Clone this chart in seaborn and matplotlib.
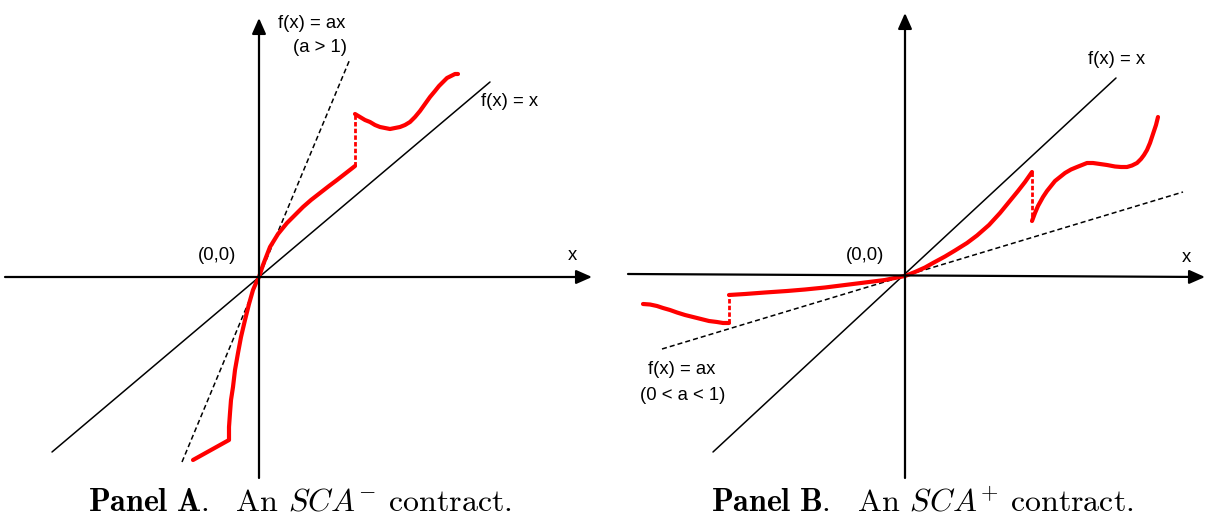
import matplotlib
matplotlib.use("Agg")
import matplotlib.pyplot as plt
import seaborn as sns

# values: offsets from each panel's origin, in pixels

# Panel A
a_diag_x = [-207, 231]
a_diag_y = [-175, 195]
a_ray_x = [-77, 91]
a_ray_y = [-185, 218]
a_low_x = [-66, -30, -30, -29, -28, -26, -24, -21, -18, -14, -10, -6, -3, 0,
           4, 11, 19, 28, 36, 44, 52, 61, 70, 78, 87, 96]
a_low_y = [-183, -163, -150, -136, -123, -110, -93, -76, -60, -43, -27, -13, -6, 0,
           12, 30, 43, 54, 62, 70, 77, 84, 91, 97, 104, 111]
a_jump_x = [96, 96]
a_jump_y = [111, 163]
a_high_x = [96, 101, 106, 111, 116, 121, 126, 131, 136, 141, 146, 151, 156,
            161, 166, 171, 176, 180, 184, 188, 192, 196, 199]
a_high_y = [163, 160, 157, 155, 152, 150, 149, 148, 149, 150, 152, 155, 160,
            166, 173, 180, 186, 191, 195, 199, 201, 203, 203]

# Panel B
b_diag_x = [-192, 211]
b_diag_y = [-176, 198]
b_ray_x = [-243, 278]
b_ray_y = [-73, 84]
b_left_x = [-262, -255, -248, -242, -235, -228, -220, -212, -204, -196, -188, -182, -176]
b_left_y = [-28, -28.5, -30, -32, -34, -36.5, -39, -41, -43, -45, -46, -47, -47]
b_jump1_x = [-176, -176]
b_jump1_y = [-47, -19]
b_mid_x = [-176, -160, -140, -118, -100, -80, -60, -40, -20, -8, 0,
           10, 20, 28, 40, 50, 62, 72, 84, 95, 104, 113, 120, 127]
b_mid_y = [-19, -18, -16.5, -15, -13.5, -11.5, -9, -6.5, -4, -1.5, 0,
           4, 8.5, 13, 19.5, 25.5, 33, 40.5, 51, 63, 74, 85, 94, 104]
b_jump2_x = [127, 127]
b_jump2_y = [104, 55]
b_high_x = [127, 130, 133, 138, 142, 146, 150, 155, 160, 166, 172, 177, 182,
            188, 195, 202, 210, 216, 222, 227, 232, 236, 239, 242, 245, 248, 251, 253]
b_high_y = [55, 63, 70, 79, 85, 90, 95, 99, 103, 106.5, 109, 111, 113,
            113, 112, 111, 109.5, 109, 109, 110.5, 113, 117, 121, 126, 133, 142, 151, 159]

sns.set_style("white")
plt.rcParams["font.family"] = ["Liberation Sans", "DejaVu Sans"]
plt.rcParams["mathtext.fontset"] = "cm"
plt.rcParams["text.color"] = "black"

RED = "#ff0000"
LBL = 13.3


def axis_arrow(ax, start, tip):
    ax.annotate("", xy=tip, xytext=start,
                arrowprops=dict(arrowstyle="-|>,head_length=0.95,head_width=0.42",
                                mutation_scale=10, lw=1.6, color="black",
                                shrinkA=0, shrinkB=0),
                annotation_clip=False)


def red_curve(ax, x, y, dashed=False):
    if dashed:
        sns.lineplot(x=x, y=y, sort=False, estimator=None, color=RED, lw=2.0,
                     ax=ax, clip_on=False)
        ax.lines[-1].set_linestyle((0, (1.6, 0.8)))
    else:
        sns.lineplot(x=x, y=y, sort=False, estimator=None, color=RED, lw=3.0,
                     ax=ax, clip_on=False, solid_capstyle="round",
                     solid_joinstyle="round")


def black_line(ax, x, y, dashed=False):
    sns.lineplot(x=x, y=y, sort=False, estimator=None, color="black",
                 lw=1.1, ax=ax, clip_on=False)
    if dashed:
        ax.lines[-1].set_linestyle((0, (3.3, 2.0)))


fig = plt.figure(figsize=(12.06, 5.19), dpi=100)
axA = fig.add_axes([0, 0, 603 / 1206, 1])
axB = fig.add_axes([603 / 1206, 0, 603 / 1206, 1])

# ---- Panel A ----
axA.set_xlim(-259, 344)
axA.set_ylim(-242, 277)
axis_arrow(axA, (-254, 0), (333, 0))
axis_arrow(axA, (0, -201), (0, 259))
black_line(axA, a_diag_x, a_diag_y)
black_line(axA, a_ray_x, a_ray_y, dashed=True)
red_curve(axA, a_low_x, a_low_y)
red_curve(axA, a_jump_x, a_jump_y, dashed=True)
red_curve(axA, a_high_x, a_high_y)
axA.text(53, 253, "f(x) = ax", fontsize=LBL, ha="center", va="center")
axA.text(61, 229, "(a > 1)", fontsize=LBL, ha="center", va="center")
axA.text(251, 175, "f(x) = x", fontsize=LBL, ha="center", va="center")
axA.text(-42, 21, "(0,0)", fontsize=LBL, ha="center", va="center")
axA.text(313, 22, "x", fontsize=LBL, ha="center", va="center")

# ---- Panel B ----
axB.set_xlim(-302, 301)
axB.set_ylim(-243, 276)
axis_arrow(axB, (-277, 2), (300, -1))
axis_arrow(axB, (0, -202), (0, 263))
black_line(axB, b_diag_x, b_diag_y)
black_line(axB, b_ray_x, b_ray_y, dashed=True)
red_curve(axB, b_left_x, b_left_y)
red_curve(axB, b_jump1_x, b_jump1_y, dashed=True)
red_curve(axB, b_mid_x, b_mid_y)
red_curve(axB, b_jump2_x, b_jump2_y, dashed=True)
red_curve(axB, b_high_x, b_high_y)
axB.text(212, 216, "f(x) = x", fontsize=LBL, ha="center", va="center")
axB.text(-40, 21, "(0,0)", fontsize=LBL, ha="center", va="center")
axB.text(281, 18, "x", fontsize=LBL, ha="center", va="center")
axB.text(-223, -93, "f(x) = ax", fontsize=LBL, ha="center", va="center")
axB.text(-222, -119, "(0 < a < 1)", fontsize=LBL, ha="center", va="center")

for ax in (axA, axB):
    ax.set_axis_off()

fig.text(300 / 1206, 1 - 503 / 519, r"$\mathbf{Panel\ A.}$  An $SCA^{-}$ contract.",
         fontsize=23, family="cmr10", ha="center", va="center")
fig.text(922 / 1206, 1 - 503 / 519, r"$\mathbf{Panel\ B.}$  An $SCA^{+}$ contract.",
         fontsize=23, family="cmr10", ha="center", va="center")

fig.savefig("out.png", dpi=100, facecolor="white")
